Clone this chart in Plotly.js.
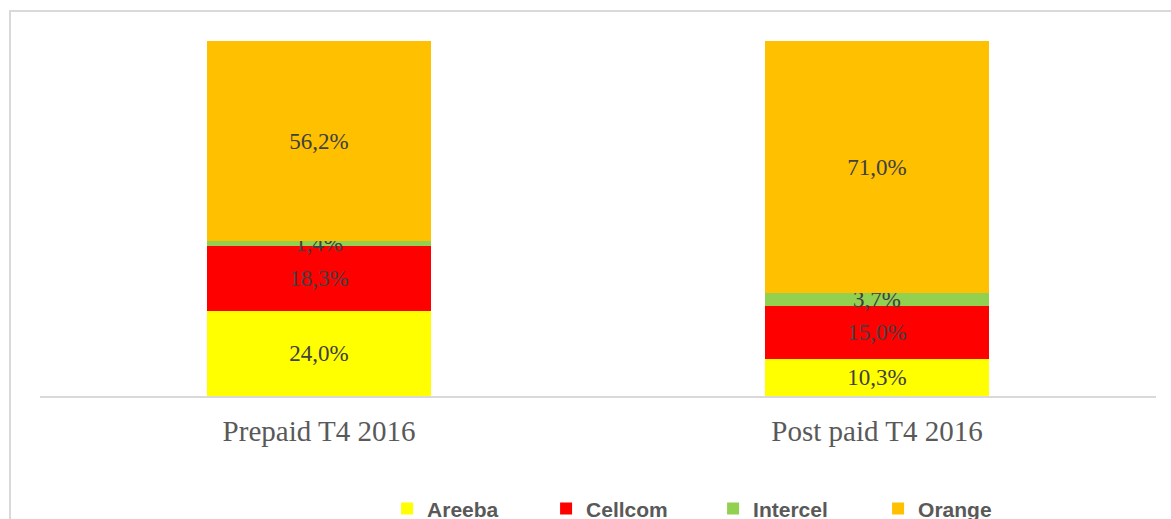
<!DOCTYPE html>
<html>
<head>
<meta charset="utf-8">
<script src="https://cdn.plot.ly/plotly-3.0.1.min.js"></script>
<style>
  html, body { margin: 0; padding: 0; background: #ffffff; overflow: hidden; }
  #chart { width: 1171px; height: 545px; }
</style>
</head>
<body>
<div id="chart"></div>
<script>
const categories = ["Prepaid T4 2016", "Post paid T4 2016"];
const seriesNames = ["Areeba", "Cellcom", "Intercel", "Orange"];
const areeba = [24.0, 10.3];
const cellcom = [18.3, 15.0];
const intercel = [1.4, 3.7];
const orange = [56.2, 71.0];
const seriesValues = [areeba, cellcom, intercel, orange];
const seriesColors = ["#FFFF00", "#FF0000", "#92D050", "#FFC000"];
const legendWidths = [114, 122, 120, 80];

function fmt(v) { return v.toFixed(1).replace('.', ',') + '%'; }

const traces = seriesNames.map((name, i) => ({
  type: 'bar',
  name: name,
  x: categories,
  y: seriesValues[i],
  marker: { color: seriesColors[i], line: { width: 0 } },
  text: seriesValues[i].map(fmt),
  textposition: 'inside',
  insidetextanchor: 'middle',
  constraintext: 'none',
  textangle: 0,
  textfont: { family: '"Liberation Serif", "Times New Roman", serif', size: 23, color: '#404040' },
  hoverinfo: 'skip',
  legendwidth: legendWidths[i],
  width: 0.4
}));

const layout = {
  width: 1171,
  height: 545,
  margin: { l: 40, r: 15, t: 41, b: 149 },
  paper_bgcolor: '#ffffff',
  plot_bgcolor: '#ffffff',
  barmode: 'stack',
  showlegend: true,
  legend: {
    orientation: 'h',
    traceorder: 'normal',
    x: 0.311,
    xanchor: 'left',
    y: -0.318,
    yanchor: 'middle',
    font: { family: '"Liberation Sans", Arial, sans-serif', size: 21, color: '#595959', weight: 700 },
    bgcolor: 'rgba(0,0,0,0)'
  },
  xaxis: {
    type: 'category',
    range: [-0.5, 1.5],
    automargin: false,
    showline: true,
    linecolor: '#d9d9d9',
    linewidth: 2,
    showgrid: false,
    zeroline: false,
    ticks: '',
    ticklabelstandoff: 8,
    tickfont: { family: '"Liberation Serif", "Times New Roman", serif', size: 29, color: '#595959' },
    fixedrange: true
  },
  yaxis: {
    range: [0, 100],
    visible: false,
    showgrid: false,
    zeroline: false,
    fixedrange: true
  },
  shapes: [{
    type: 'rect',
    xref: 'paper', yref: 'paper',
    x0: (10 - 40) / 1116, x1: 1.2,
    y0: -0.6, y1: (396 - 11) / 355,
    line: { color: '#d9d9d9', width: 2 },
    fillcolor: 'rgba(0,0,0,0)',
    layer: 'below'
  }]
};

Plotly.newPlot('chart', traces, layout, { displayModeBar: false, staticPlot: true });
</script>
</body>
</html>
